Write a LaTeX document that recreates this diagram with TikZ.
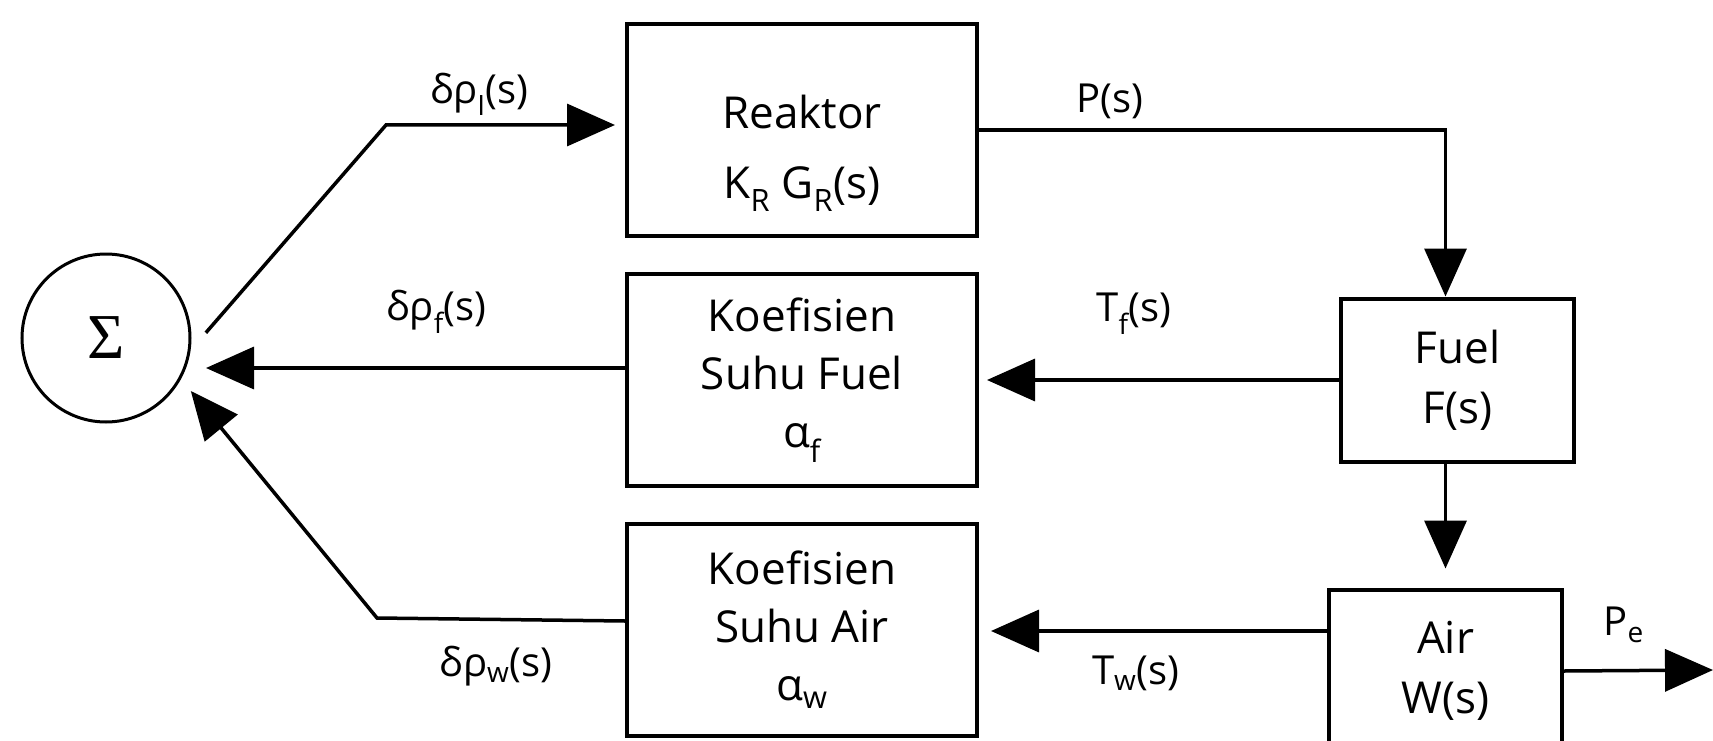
\documentclass[tikz,border=0pt]{standalone}
\usepackage{fontspec}
\setmainfont{Open Sans}
\newfontfamily\sigfont{Liberation Serif}
\usetikzlibrary{arrows.meta, positioning, calc}

\begin{document}
\begin{tikzpicture}[
  x=1pt, y=-1pt,
  node distance=34pt and 360pt,
  blk/.style={rectangle, draw, line width=4pt,
              minimum width=350pt, minimum height=212pt,
              font=\fontsize{44}{58}\selectfont, align=center},
  sblk/.style={rectangle, draw, line width=4pt,
               minimum width=233pt, minimum height=163pt,
               font=\fontsize{44}{60}\selectfont, align=center},
  sumnode/.style={circle, draw, line width=3pt, minimum size=168pt,
                  outer sep=16pt, font=\fontsize{64}{64}\sigfont},
  lbl/.style={font=\fontsize{40}{40}\selectfont, inner sep=0pt},
  arr/.style={-{Triangle[length=48pt,width=42pt]}, line width=3.5pt}
]
\path[use as bounding box, clip] (0,0) rectangle (1713,741);

\node[sumnode] (sum) at (106,338) {Σ};
\node[blk] (reactor) at (802,130)
  {\raisebox{-28pt}[0pt][0pt]{\begin{tabular}{@{}c@{}}Reaktor\\[12pt]K\textsubscript{R} G\textsubscript{R}(s)\end{tabular}}};
\node[blk, below=of reactor] (fcoef) {Koefisien\\Suhu Fuel\\α\textsubscript{f}};
\node[blk, below=of fcoef]   (acoef) {Koefisien\\Suhu Air\\α\textsubscript{w}};
\node[sblk, right=of fcoef]  (fuel)  {Fuel\\F(s)};
\node[sblk, below=124pt of fuel, xshift=-12pt] (air) {Air\\W(s)};

\coordinate (k1) at (386,125);
\coordinate (k3) at (377,618);
\coordinate (pe) at (1713,670);

\draw[arr, shorten >=10pt] (sum.3) -- (k1)
  -- node[lbl, above=8pt, pos=0.39] {δρ\textsubscript{I}(s)} (k1 -| reactor.west);
\draw[arr] (reactor.east)
  -- node[lbl, above=9pt, pos=0.28] {P(s)} (reactor.east -| air.north)
  -- (fuel.north -| air.north);
\draw[arr, shorten >=8pt] (fuel.west)
  -- node[lbl, above=44pt, pos=0.57] {T\textsubscript{f}(s)} (fcoef.east);
\draw[arr] ([yshift=12pt]fcoef.west)
  -- node[lbl, above=33pt, pos=0.45] {δρ\textsubscript{f}(s)} ([yshift=12pt]fcoef.west -| sum.east);
\draw[arr, shorten >=19pt] (fuel.south -| air.north) -- (air.north);
\draw[arr, shorten >=12pt] ([yshift=40pt]air.west)
  -- node[lbl, below=23pt, pos=0.55] {T\textsubscript{w}(s)} ([yshift=40pt]air.west -| acoef.east);
\draw[arr] ([yshift=9pt]acoef.west)
  -- node[lbl, below=25pt, pos=0.52] {δρ\textsubscript{w}(s)} (k3) -- (sum.-32);
\draw[arr] (air.east) -- node[lbl, above=26pt, pos=0.4] {P\textsubscript{e}} (pe);
\end{tikzpicture}
\end{document}
